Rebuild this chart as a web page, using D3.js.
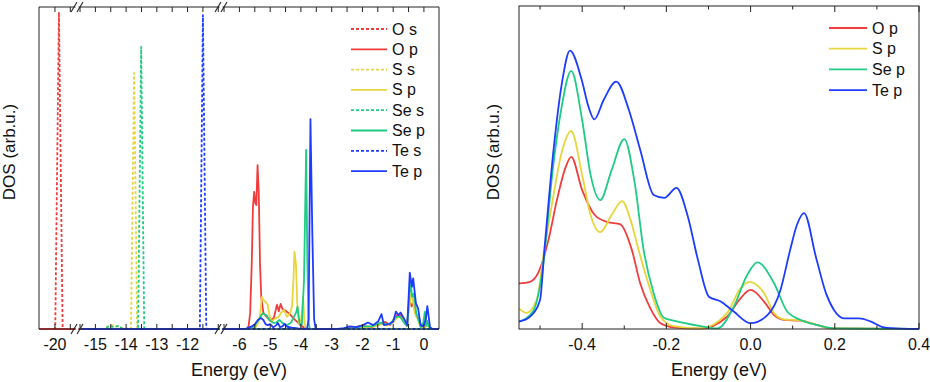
<!DOCTYPE html>
<html>
<head>
<meta charset="utf-8">
<script src="https://cdn.jsdelivr.net/npm/d3@7"></script>
<style>
  body { margin: 0; background: #fff; }
  svg { display: block; font-family: "Liberation Sans", Arial, sans-serif; }
</style>
</head>
<body>
<div id="chart"></div>
<script>
// ---- data: left panel (energy in eV, DOS in arb. units 0-100) ----
var leftNames = ["O s", "O p", "S s", "S p", "Se s", "Se p", "Te s", "Te p"];
var leftSegments = [[-20.52, -19.33], [-15.55, -10.96], [-6.55, 0.49]];
var leftTickLabels = [-20, -15, -14, -13, -12, -6, -5, -4, -3, -2, -1, 0];

var oS = [[-20.52, 0], [-19.99, 0], [-19.87, 98.4], [-19.75, 0], [-19.33, 0]];
var oP = [[-20.52, 0], [-19.33, 0], [-15.55, 0], [-5.75, 0], [-5.7, 1], [-5.65, 5], [-5.6, 20], [-5.56, 38],
  [-5.52, 42.6], [-5.48, 39], [-5.45, 38.5], [-5.41, 50.9], [-5.37, 42], [-5.33, 20], [-5.29, 10], [-5.22, 5],
  [-5.12, 3.8], [-5.0, 2.5], [-4.88, 3.5], [-4.78, 7.5], [-4.72, 5.5], [-4.66, 7.8], [-4.6, 6.2], [-4.52, 5.8],
  [-4.45, 5.3], [-4.35, 4.5], [-4.25, 3.4], [-4.12, 2.2], [-3.98, 1], [-3.85, 0], [-2.6, 0], [-2.3, 0.5],
  [-2.0, 1], [-1.7, 0.6], [-1.4, 1.5], [-1.25, 2.2], [-1.1, 1.2], [-0.95, 3.5], [-0.85, 4.5], [-0.75, 4.2],
  [-0.65, 2.5], [-0.55, 1], [-0.47, 9], [-0.4, 7], [-0.35, 8], [-0.25, 4], [-0.15, 3], [-0.08, 0.5],
  [0.03, 0.5], [0.1, 2], [0.18, 0.3], [0.3, 0], [0.49, 0]];
var sS = [[-15.45, 0], [-14.75, 0], [-14.6, 0.8], [-14.45, 1.2], [-14.3, 0.8], [-14.15, 0.3], [-13.84, 0],
  [-13.74, 79.5], [-13.64, 0], [0.49, 0]];
var sP = [[-15.45, 0], [-5.55, 0], [-5.45, 0.8], [-5.38, 2], [-5.32, 5], [-5.27, 10], [-5.22, 9], [-5.15, 8.5],
  [-5.08, 7.5], [-5.02, 4], [-4.96, 2.3], [-4.85, 3.2], [-4.75, 3.5], [-4.65, 5], [-4.55, 5.9], [-4.45, 3.8],
  [-4.35, 5], [-4.29, 7], [-4.24, 16], [-4.21, 24], [-4.16, 20], [-4.12, 8], [-4.07, 1.9], [-4.0, 2.5],
  [-3.96, 6], [-3.93, 10], [-3.89, 3], [-3.86, 0.5], [-3.8, 0], [-2.5, 0], [-2.0, 0.5], [-1.6, 0.8],
  [-1.35, 1.8], [-1.2, 1], [-1.0, 2], [-0.88, 3.5], [-0.78, 3.8], [-0.68, 2.8], [-0.56, 1], [-0.47, 7],
  [-0.42, 11], [-0.36, 9], [-0.3, 5], [-0.22, 3.5], [-0.12, 0.8], [0.0, 0.3], [0.1, 1.2], [0.18, 0.2],
  [0.3, 0], [0.49, 0]];
var seS = [[-15.45, 0], [-14.7, 0], [-14.55, 0.9], [-14.4, 0.6], [-14.25, 1], [-14.1, 0], [-13.61, 0],
  [-13.51, 87.6], [-13.41, 0], [0.49, 0]];
var seP = [[-15.45, 0], [-5.65, 0], [-5.5, 1], [-5.45, 1.9], [-5.34, 3.4], [-5.25, 4.8], [-5.18, 4.5],
  [-5.12, 4.3], [-5.02, 2.8], [-4.9, 1.9], [-4.8, 2], [-4.7, 2.8], [-4.6, 1.9], [-4.45, 1.2], [-4.32, 2],
  [-4.25, 3.4], [-4.16, 5], [-4.11, 6.9], [-4.06, 3], [-4.03, 1.2], [-3.97, 1.5], [-3.9, 15], [-3.83, 55.6],
  [-3.79, 20], [-3.75, 2], [-3.71, 0], [-2.6, 0], [-2.3, 0.3], [-2.0, 0.8], [-1.7, 0.8], [-1.4, 2],
  [-1.3, 1.5], [-1.1, 1.5], [-0.93, 3.5], [-0.83, 4], [-0.75, 3.5], [-0.65, 2], [-0.55, 1], [-0.47, 11],
  [-0.44, 14.3], [-0.38, 10], [-0.33, 11], [-0.25, 5], [-0.18, 3], [-0.1, 0.5], [-0.02, 2], [0.03, 5.4],
  [0.07, 1], [0.11, 2.5], [0.16, 0.8], [0.25, 0], [0.49, 0]];
var teS = [[-15.45, 0], [-11.6, 0], [-11.5, 97.5], [-11.39, 0], [0.49, 0]];
var teP = [[-15.45, 0], [-5.8, 0], [-5.74, 0.3], [-5.6, 0.8], [-5.5, 1.5], [-5.4, 2.8], [-5.3, 3.4],
  [-5.22, 2.8], [-5.15, 1.5], [-5.08, 1.2], [-5.0, 1.5], [-4.9, 0.5], [-4.8, 1.2], [-4.75, 1.9], [-4.68, 0.6],
  [-4.6, 0.8], [-4.53, 1.6], [-4.45, 0.7], [-4.3, 0.4], [-4.1, 0.2], [-3.8, 0], [-3.75, 3], [-3.69, 65.2],
  [-3.63, 30], [-3.57, 3], [-3.52, 0], [-2.8, 0], [-2.6, 0.3], [-2.41, 0.8], [-2.2, 0.6], [-1.98, 1.2],
  [-1.82, 2], [-1.65, 1.2], [-1.49, 2.3], [-1.38, 4.6], [-1.3, 1.2], [-1.15, 1.5], [-1.0, 2.3], [-0.91, 5.4],
  [-0.83, 4.3], [-0.76, 5.1], [-0.65, 3.3], [-0.54, 1.2], [-0.46, 17.5], [-0.39, 13.1], [-0.35, 15.7],
  [-0.26, 8], [-0.19, 6.4], [-0.11, 1.2], [-0.02, 0.8], [0.06, 3], [0.11, 7.1], [0.2, 0.5], [0.28, 0],
  [0.49, 0]];

// ---- data: right panel (zoom near the Fermi level) ----
var rightNames = ["O p", "S p", "Se p", "Te p"];
var rightDomain = [-0.55, 0.4];
var rightTicks = [-0.4, -0.2, 0.0, 0.2, 0.4];

var rOp = [[-0.55, 14.1], [-0.524, 14.6], [-0.505, 17.2], [-0.48, 27.6], [-0.46, 39.9], [-0.44, 49.8],
  [-0.426, 53.3], [-0.4, 43.0], [-0.37, 35.3], [-0.34, 33.1], [-0.31, 32.5], [-0.282, 24.5], [-0.262, 14.1],
  [-0.238, 6.4], [-0.214, 1.8], [-0.183, 0.5], [-0.12, 0.1], [-0.056, 3.8], [-0.024, 9.5], [0.0, 12.1],
  [0.032, 8.5], [0.056, 4.3], [0.079, 2.8], [0.119, 2.6], [0.159, 1.2], [0.19, 0.2], [0.4, 0]];
var rSp = [[-0.55, 6.4], [-0.532, 5.0], [-0.508, 9.0], [-0.49, 24.5], [-0.47, 39.9], [-0.45, 53.9],
  [-0.426, 61.3], [-0.4, 47.7], [-0.38, 35.3], [-0.357, 30.0], [-0.33, 35.3], [-0.305, 39.6], [-0.285, 33.7],
  [-0.266, 24.5], [-0.238, 12.1], [-0.214, 3.8], [-0.183, 0.9], [-0.119, 0.2], [-0.056, 4.9], [-0.024, 12.6],
  [-0.002, 14.6], [0.032, 11.1], [0.056, 4.9], [0.079, 3.0], [0.119, 2.6], [0.159, 1.2], [0.19, 0.2], [0.4, 0]];
var rSep = [[-0.55, 2.3], [-0.517, 5.4], [-0.493, 19.3], [-0.47, 49.2], [-0.45, 67.8], [-0.426, 79.9],
  [-0.4, 64.7], [-0.38, 47.7], [-0.357, 39.9], [-0.33, 49.2], [-0.3, 58.8], [-0.275, 45], [-0.254, 24.5],
  [-0.23, 11], [-0.206, 3.5], [-0.18, 2.5], [-0.119, 0.9], [-0.079, 0.2], [-0.04, 6.9], [-0.008, 16.7],
  [0.016, 20.6], [0.056, 14.1], [0.087, 5.4], [0.119, 2.8], [0.159, 1.2], [0.198, 0.2], [0.4, 0]];
var rTep = [[-0.55, 2.3], [-0.524, 3.8], [-0.5, 9.0], [-0.49, 24], [-0.468, 55.4], [-0.448, 76.2],
  [-0.429, 86.2], [-0.401, 77.1], [-0.385, 68.8], [-0.371, 64.9], [-0.349, 70.9], [-0.319, 76.6],
  [-0.289, 67.8], [-0.262, 55.4], [-0.23, 41.5], [-0.205, 40.6], [-0.176, 43.7], [-0.15, 35.3],
  [-0.125, 21.4], [-0.099, 10.0], [-0.071, 8.5], [-0.04, 5.4], [0.0, 1.8], [0.04, 4.3], [0.071, 12.1],
  [0.094, 24.5], [0.11, 32.2], [0.127, 35.9], [0.155, 22.4], [0.179, 11.1], [0.198, 5.9], [0.222, 3.3],
  [0.258, 3.3], [0.286, 2.3], [0.317, 0.5], [0.357, 0.1], [0.4, 0]];

var colors = ["#f03c3c", "#e6d53c", "#1fcb85", "#1e3cff"];

var svg = d3.select("#chart").append("svg")
    .attr("width", 930)
    .attr("height", 382);

var ink = "#222";
var lw = 1.8;
var fmt = function (v) { return d3.format(".1f")(v).replace("\u2212", "-"); };

// ================= left panel: broken x axis =================
var L = {left: 39, right: 439, top: 7, bottom: 329};
var segRanges = [[39, 75.5], [78.5, 219.5], [222.5, 439]];
var segScales = leftSegments.map(function (d, i) {
    return d3.scaleLinear().domain(d).range(segRanges[i]);
});
var yL = d3.scaleLinear().domain([0, 100]).range([L.bottom, L.top]);

var defs = svg.append("defs");
segRanges.forEach(function (r, i) {
    defs.append("clipPath").attr("id", "seg" + i)
        .append("rect")
        .attr("x", r[0]).attr("y", 0)
        .attr("width", r[1] - r[0]).attr("height", L.bottom + 2);
});

var leftData = [oS, oP, sS, sP, seS, seP, teS, teP];

segScales.forEach(function (sx, i) {
    var g = svg.append("g").attr("clip-path", "url(#seg" + i + ")");
    var line = d3.line().x(function (d) { return sx(d[0]); }).y(function (d) { return yL(d[1]); });
    leftData.forEach(function (d, j) {
        g.append("path")
            .attr("d", line(d))
            .attr("fill", "none")
            .attr("stroke", colors[Math.floor(j / 2)])
            .attr("stroke-width", lw)
            .attr("stroke-linejoin", "round")
            .attr("stroke-dasharray", j % 2 === 0 ? "3,2" : null);
    });
});

// frame pieces and ticks for each segment
segScales.forEach(function (sx, i) {
    var r = segRanges[i];
    [L.top, L.bottom].forEach(function (y) {
        svg.append("line").attr("x1", r[0]).attr("x2", r[1]).attr("y1", y).attr("y2", y)
            .attr("stroke", ink).attr("stroke-width", 1);
    });
    var d = sx.domain();
    var ticks = d3.range(Math.ceil(d[0] * 2) / 2, d[1], 0.5)
        .filter(function (t) { return sx(t) > r[0] + 1.5 && sx(t) < r[1] - 1; });
    ticks.forEach(function (t) {
        var x = sx(t);
        svg.append("line").attr("x1", x).attr("x2", x).attr("y1", L.bottom).attr("y2", L.bottom - 5)
            .attr("stroke", ink);
        svg.append("line").attr("x1", x).attr("x2", x).attr("y1", L.top).attr("y2", L.top + 5)
            .attr("stroke", ink);
    });
    leftTickLabels.filter(function (t) { return t >= d[0] && t <= d[1]; }).forEach(function (t) {
        svg.append("text").attr("x", sx(t)).attr("y", 350)
            .attr("text-anchor", "middle").attr("font-size", 16).attr("fill", "#111")
            .text(String(t));
    });
});
[L.left, L.right].forEach(function (x) {
    svg.append("line").attr("x1", x).attr("x2", x).attr("y1", L.top).attr("y2", L.bottom)
        .attr("stroke", ink);
});

// break marks
for (var b = 0; b < 2; b++) {
    var xa = segRanges[b][1] - 1.5, xb = segRanges[b + 1][0] + 1.5;
    [L.top, L.bottom].forEach(function (y) {
        [xa, xb].forEach(function (x) {
            svg.append("line")
                .attr("x1", x - 3).attr("y1", y + 5).attr("x2", x + 3).attr("y2", y - 5)
                .attr("stroke", ink).attr("stroke-width", 1.1);
        });
    });
}

// legend (left)
leftNames.forEach(function (name, j) {
    var y = 29 + j * 20.3;
    svg.append("line").attr("x1", 351).attr("x2", 387).attr("y1", y).attr("y2", y)
        .attr("stroke", colors[Math.floor(j / 2)]).attr("stroke-width", lw)
        .attr("stroke-dasharray", j % 2 === 0 ? "3,2" : null);
    svg.append("text").attr("x", 392).attr("y", y + 5.5)
        .attr("font-size", 16).attr("fill", "#111").text(name);
});

svg.append("text").attr("x", (L.left + L.right) / 2).attr("y", 376)
    .attr("text-anchor", "middle").attr("font-size", 18).attr("fill", "#111")
    .text("Energy (eV)");
svg.append("text").attr("transform", "translate(14.5,152) rotate(-90)")
    .attr("text-anchor", "middle").attr("font-size", 17).attr("fill", "#111")
    .text("DOS (arb.u.)");

// ================= right panel =================
var R = {left: 519, right: 919, top: 6, bottom: 329};
var xR = d3.scaleLinear().domain(rightDomain).range([R.left, R.right]);
var yR = d3.scaleLinear().domain([0, 100]).range([R.bottom, R.top]);

defs.append("clipPath").attr("id", "rclip")
    .append("rect").attr("x", R.left).attr("y", R.top)
    .attr("width", R.right - R.left).attr("height", R.bottom - R.top + 2);

var rLine = d3.line()
    .x(function (d) { return xR(d[0]); })
    .y(function (d) { return yR(d[1]); })
    .curve(d3.curveMonotoneX);

var rg = svg.append("g").attr("clip-path", "url(#rclip)");
[rOp, rSp, rSep, rTep].forEach(function (d, j) {
    rg.append("path").attr("d", rLine(d))
        .attr("fill", "none").attr("stroke", colors[j]).attr("stroke-width", lw);
});

svg.append("rect").attr("x", R.left).attr("y", R.top)
    .attr("width", R.right - R.left).attr("height", R.bottom - R.top)
    .attr("fill", "none").attr("stroke", ink);

d3.range(-5, 5).map(function (k) { return k / 10; }).forEach(function (t) {
    var x = xR(t);
    var major = Math.abs(Math.round(t * 10)) % 2 === 0;
    var len = major ? 6 : 3.5;
    svg.append("line").attr("x1", x).attr("x2", x).attr("y1", R.bottom).attr("y2", R.bottom - len).attr("stroke", ink);
    svg.append("line").attr("x1", x).attr("x2", x).attr("y1", R.top).attr("y2", R.top + len).attr("stroke", ink);
});
rightTicks.forEach(function (t) {
    svg.append("text").attr("x", xR(t)).attr("y", 350)
        .attr("text-anchor", "middle").attr("font-size", 16).attr("fill", "#111")
        .text(fmt(t));
});

rightNames.forEach(function (name, j) {
    var y = 28 + j * 20.7;
    svg.append("line").attr("x1", 829).attr("x2", 867).attr("y1", y).attr("y2", y)
        .attr("stroke", colors[j]).attr("stroke-width", lw);
    svg.append("text").attr("x", 872).attr("y", y + 5.5)
        .attr("font-size", 16).attr("fill", "#111").text(name);
});

svg.append("text").attr("x", (R.left + R.right) / 2).attr("y", 376)
    .attr("text-anchor", "middle").attr("font-size", 18).attr("fill", "#111")
    .text("Energy (eV)");
svg.append("text").attr("transform", "translate(498.5,152) rotate(-90)")
    .attr("text-anchor", "middle").attr("font-size", 17).attr("fill", "#111")
    .text("DOS (arb.u.)");
</script>
</body>
</html>
